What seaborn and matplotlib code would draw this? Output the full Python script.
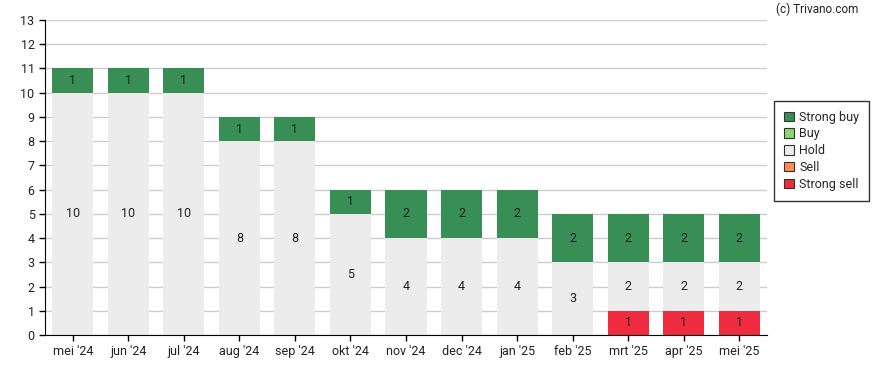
import numpy as np
import pandas as pd
import matplotlib
matplotlib.use('Agg')
import matplotlib.pyplot as plt
import seaborn as sns
from matplotlib.patches import Patch

# data
maanden = ["mei '24", "jun '24", "jul '24", "aug '24", "sep '24", "okt '24", "nov '24",
           "dec '24", "jan '25", "feb '25", "mrt '25", "apr '25", "mei '25"]
strong_sell = [0, 0, 0, 0, 0, 0, 0, 0, 0, 0, 1, 1, 1]
sell = [0, 0, 0, 0, 0, 0, 0, 0, 0, 0, 0, 0, 0]
hold = [10, 10, 10, 8, 8, 5, 4, 4, 4, 3, 2, 2, 2]
buy = [0, 0, 0, 0, 0, 0, 0, 0, 0, 0, 0, 0, 0]
strong_buy = [1, 1, 1, 1, 1, 1, 2, 2, 2, 2, 2, 2, 2]

series = [
    ("Strong sell", strong_sell, "#ee2b3f"),
    ("Sell", sell, "#ff8c4d"),
    ("Hold", hold, "#ececec"),
    ("Buy", buy, "#8fd46c"),
    ("Strong buy", strong_buy, "#378f55"),
]

sns.set_style("white")
plt.rcParams['font.family'] = ['Roboto', 'DejaVu Sans']

fig = plt.figure(figsize=(8.88, 3.70), dpi=100)
ax = fig.add_axes([0.0507, 0.0946, 0.8130, 0.8514])

bottom = np.zeros(len(maanden))
for naam, vals, kleur in series:
    df = pd.DataFrame({"maand": maanden, "aantal": vals})
    sns.barplot(data=df, x="maand", y="aantal", color=kleur, bottom=bottom,
                width=0.74, saturation=1, ax=ax, linewidth=0, zorder=2)
    for i, v in enumerate(vals):
        if v > 0:
            ax.text(i, bottom[i] + v / 2, str(v), ha='center', va='center',
                    fontsize=9, color='#222222', zorder=3)
    bottom = bottom + np.array(vals)

ax.set_ylim(0, 13)
ax.set_xlim(-0.5, len(maanden) - 0.5)
ax.set_yticks(range(0, 14))
ax.yaxis.grid(True, color='#cccccc', linewidth=1, zorder=0)
ax.set_axisbelow(True)
ax.set_xlabel("")
ax.set_ylabel("")
for s in ['top', 'right']:
    ax.spines[s].set_visible(False)
ax.spines['left'].set_color('black')
ax.spines['bottom'].set_color('black')
ax.tick_params(axis='both', labelsize=9, colors='black', length=4, width=1, direction='out',
               left=True, bottom=True)
for lbl in ax.get_xticklabels() + ax.get_yticklabels():
    lbl.set_color('#222222')

handles = [Patch(facecolor=c, edgecolor='#333333', linewidth=0.8, label=n)
           for n, _, c in reversed(series)]
leg = fig.legend(handles=handles, loc='upper left', bbox_to_anchor=(0.872, 0.728),
                 fontsize=9, frameon=True, fancybox=False, handlelength=0.8,
                 handleheight=0.8, handletextpad=0.4, labelspacing=0.3, borderpad=0.8,
                 borderaxespad=0)
leg.get_frame().set_edgecolor('black')
leg.get_frame().set_linewidth(1)

fig.text(0.967, 0.975, "(c) Trivano.com", ha='right', va='center', fontsize=8.5, color='#222222')

fig.savefig('out.png', dpi=100)
